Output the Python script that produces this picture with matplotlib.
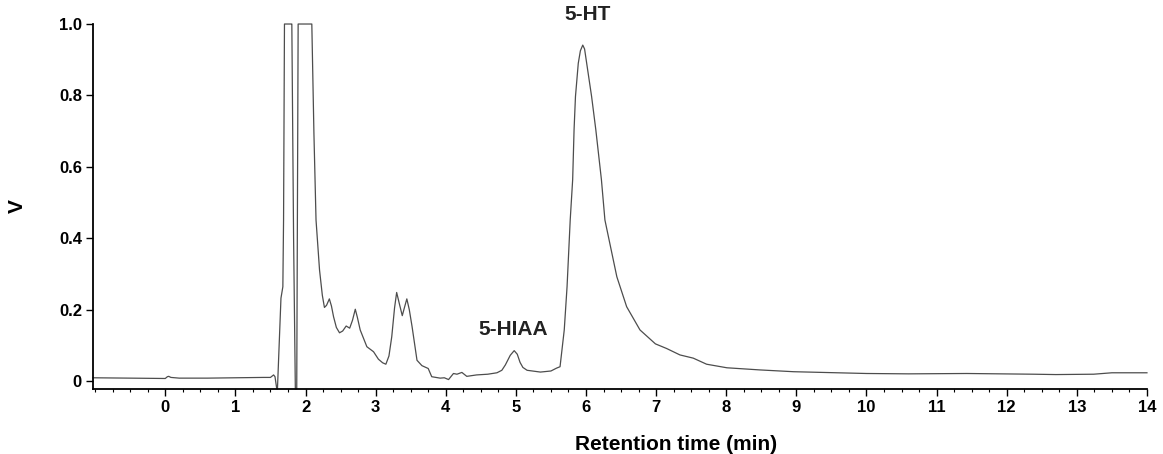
import matplotlib
matplotlib.use("Agg")
import matplotlib.pyplot as plt
from matplotlib.ticker import MultipleLocator, FixedLocator

plt.rcParams['font.family'] = ['Liberation Sans', 'DejaVu Sans']

# Retention time (min) and detector signal (V)
time_min = [
    -1.03, -0.5, 0.0, 0.03, 0.05, 0.08, 0.2, 0.6, 1.0, 1.4, 1.50, 1.545, 1.565, 1.59,
    1.60, 1.65, 1.677, 1.687, 1.70, 1.796, 1.805, 1.83, 1.855, 1.867, 1.875, 1.895, 2.09,
    2.12, 2.15, 2.20, 2.24, 2.27, 2.30, 2.34, 2.37, 2.40, 2.44, 2.485, 2.53, 2.58,
    2.63, 2.67, 2.71, 2.74, 2.78, 2.875, 2.97, 3.04, 3.10, 3.146, 3.19, 3.23, 3.27,
    3.30, 3.34, 3.38, 3.41, 3.445, 3.48, 3.52, 3.59, 3.66, 3.75, 3.80, 3.92, 3.98,
    4.04, 4.11, 4.16, 4.23, 4.30, 4.44, 4.60, 4.73, 4.80, 4.85, 4.92, 4.976, 5.02,
    5.06, 5.10, 5.16, 5.35, 5.50, 5.58, 5.63, 5.69, 5.73, 5.775, 5.81, 5.83, 5.85,
    5.89, 5.92, 5.954, 5.98, 6.01, 6.08, 6.14, 6.22, 6.27, 6.35, 6.44, 6.58, 6.77,
    6.99, 7.15, 7.34, 7.53, 7.72, 8.01, 8.48, 8.96, 10.0, 10.6, 11.43, 12.38, 12.7,
    13.24, 13.5, 14.0,
]
signal_v = [
    0.009, 0.008, 0.007, 0.012, 0.013, 0.010, 0.008, 0.008, 0.009, 0.010, 0.010, 0.017, 0.012, -0.022,
    -0.022, 0.232, 0.264, 0.451, 1.0, 1.0, 1.0, 0.40, -0.022, -0.022, -0.022, 1.0, 1.0,
    0.694, 0.451, 0.311, 0.240, 0.206, 0.212, 0.230, 0.210, 0.180, 0.150, 0.135, 0.140, 0.154,
    0.148, 0.170, 0.201, 0.178, 0.143, 0.096, 0.082, 0.061, 0.051, 0.047, 0.070, 0.124, 0.205,
    0.248, 0.215, 0.183, 0.205, 0.230, 0.200, 0.152, 0.058, 0.043, 0.035, 0.012, 0.008, 0.009,
    0.004, 0.021, 0.019, 0.024, 0.013, 0.017, 0.019, 0.023, 0.030, 0.045, 0.072, 0.085, 0.075,
    0.052, 0.038, 0.030, 0.025, 0.028, 0.036, 0.040, 0.143, 0.264, 0.451, 0.564, 0.704, 0.797,
    0.890, 0.925, 0.941, 0.930, 0.890, 0.797, 0.704, 0.564, 0.451, 0.376, 0.292, 0.208, 0.143,
    0.104, 0.091, 0.073, 0.064, 0.047, 0.037, 0.031, 0.026, 0.021, 0.020, 0.021, 0.019, 0.018,
    0.019, 0.023, 0.023,
]

y_ticks = [0, 0.2, 0.4, 0.6, 0.8, 1.0]
y_tick_labels = ["0", "0.2", "0.4", "0.6", "0.8", "1.0"]
x_ticks = list(range(0, 15))

peak_labels = ["5-HIAA", "5-HT"]
peak_label_x = [4.96, 6.02]
peak_label_y = [0.143, 1.027]

fig = plt.figure(figsize=(11.63, 4.54), dpi=100)
ax = fig.add_axes([0.080, 0.1432, 0.9062, 0.8039])

ax.plot(time_min, signal_v, color="#4d4d4d", lw=0.9, clip_on=False)

ax.set_xlim(-1.03, 14.0)
ax.set_ylim(-0.0224, 1.0)

for s in ["top", "right"]:
    ax.spines[s].set_visible(False)
for s in ["left", "bottom"]:
    ax.spines[s].set_linewidth(1.3)
    ax.spines[s].set_color("black")

ax.xaxis.set_major_locator(FixedLocator(x_ticks))
ax.xaxis.set_minor_locator(MultipleLocator(0.25))
ax.set_xticklabels([str(t) for t in x_ticks])
ax.set_yticks(y_ticks)
ax.set_yticklabels(y_tick_labels)
ax.tick_params(axis="both", which="major", length=5, width=1.0, labelsize=12, pad=3)
ax.tick_params(axis="x", which="minor", length=2.5, width=0.8)
for lab in ax.get_xticklabels() + ax.get_yticklabels():
    lab.set_fontweight("bold")

ax.set_xlabel("Retention time (min)", fontsize=15, fontweight="bold")
ax.xaxis.set_label_coords(0.553, -0.125)
ax.set_ylabel("V", fontsize=15, fontweight="bold")
ax.yaxis.set_label_coords(-0.0626, 0.5)

for txt, px, py in zip(peak_labels, peak_label_x, peak_label_y):
    ax.text(px, py, txt, fontsize=15, fontweight="bold", ha="center", va="center",
            color="#222222", clip_on=False)

fig.savefig("out.png", dpi=100)
